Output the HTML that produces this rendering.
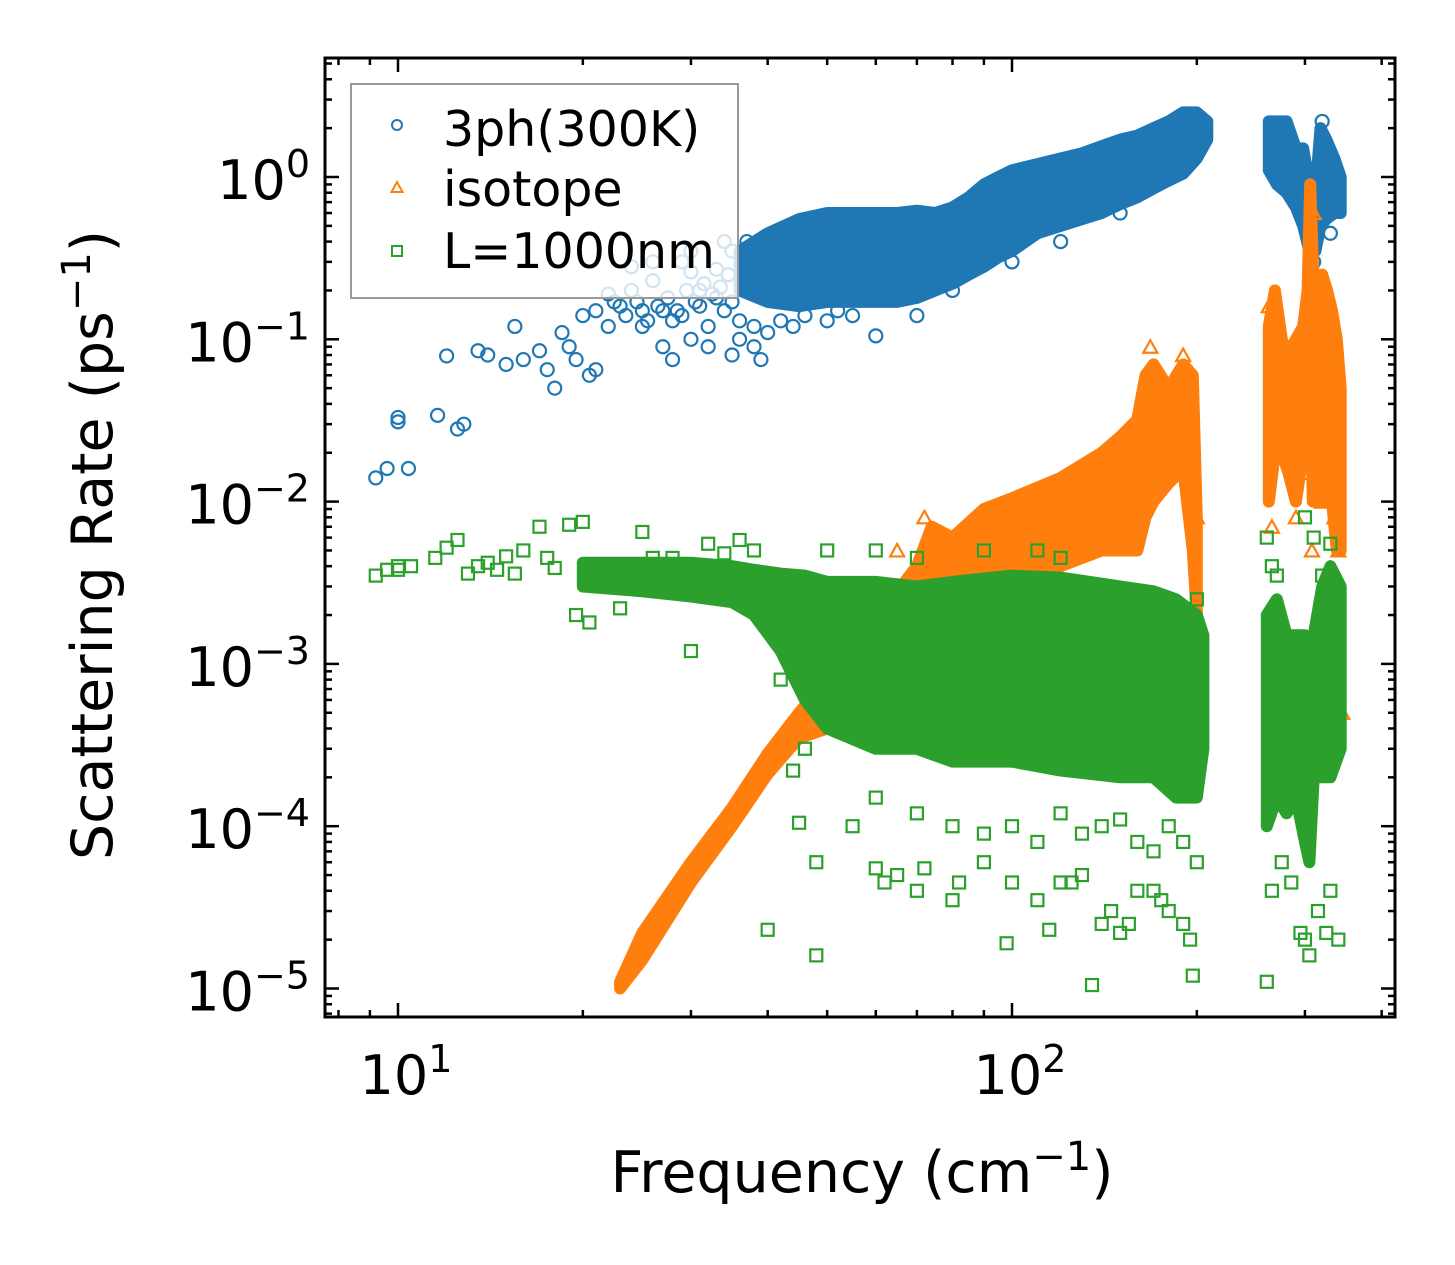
<!DOCTYPE html>
<html><head><meta charset="utf-8"><style>
body{margin:0;background:#fff}
svg{display:block;font-family:"DejaVu Sans","Liberation Sans",sans-serif}
</style></head><body>
<svg id="chart" width="1455" height="1265" viewBox="0 0 1455 1265" xmlns="http://www.w3.org/2000/svg">
<rect width="1455" height="1265" fill="#fff"/>
<defs><clipPath id="plotclip"><rect x="325" y="58" width="1070" height="959"/></clipPath></defs>
<g id="marks" clip-path="url(#plotclip)"></g>
<g id="axes"></g>
<g id="legend">
<rect x="351" y="84" width="387" height="214" fill="rgba(255,255,255,0.8)" stroke="#999" stroke-width="2"/>
<circle cx="397" cy="125" r="5" fill="none" stroke="#1f77b4" stroke-width="2"/>
<text x="443" y="146" font-size="49">3ph(300K)</text>
<polygon points="397,182 402.5,192 391.5,192" fill="none" stroke="#ff7f0e" stroke-width="2"/>
<text x="443" y="206" font-size="49">isotope</text>
<rect x="392" y="246" width="10" height="10" fill="none" stroke="#2ca02c" stroke-width="2"/>
<text x="443" y="268" font-size="49">L=1000nm</text>
</g>
<text x="862" y="1192" font-size="57" text-anchor="middle">Frequency (cm<tspan dy="-22" font-size="40">−1</tspan><tspan dy="22">)</tspan></text>
<text transform="translate(112,545) rotate(-90)" font-size="57" text-anchor="middle">Scattering Rate (ps<tspan dy="-22" font-size="40">−1</tspan><tspan dy="22">)</tspan></text>
</svg>
<script>
// ---- data ----
const blueEnvFreq1 = [36,40,45,50,55,60,65,70,75,80,85,90,95,100,110,120,130,140,150,160,170,180,190,200,208];
const blueEnvLo1 = [0.2,0.17,0.16,0.17,0.17,0.17,0.17,0.18,0.2,0.22,0.25,0.28,0.32,0.35,0.45,0.5,0.55,0.6,0.68,0.75,0.85,0.95,1.05,1.3,1.7];
const blueEnvHi1 = [0.35,0.45,0.55,0.6,0.6,0.6,0.6,0.62,0.6,0.65,0.75,0.9,1.0,1.1,1.2,1.3,1.4,1.55,1.7,1.8,2.0,2.2,2.5,2.5,2.2];
const blueEnvFreq2 = [262,270,280,290,298,305,312,318,325,335,343];
const blueEnvLo2 = [1.1,0.9,0.8,0.65,0.5,0.35,0.35,0.5,0.55,0.6,0.6];
const blueEnvHi2 = [2.2,2.2,2.2,1.5,1.5,0.9,0.8,2.0,1.7,1.3,1.0];
const blueFreq = [9.2,9.6,10,10,10.4,11.6,12,12.5,12.8,13.5,14,15,15.5,16,17,17.5,18,18.5,19,19.5,20,20.5,21,22,23,24,25,26,27,28,29,30,31,32,33,34,35,36,37,28,32,35,38,39,40,44,50,55,60,70,80,100,120,150,24,26,30,34,300,310,320,330,
 21,22.5,23.5,24.5,25.5,26.5,27.5,28.5,29.5,30.5,31.5,32.5,33.5,34.5,22,25,27,29,31,33,35,30,36,38,42,46,52];
const blueRate = [0.014,0.016,0.033,0.031,0.016,0.034,0.079,0.028,0.03,0.085,0.08,0.07,0.12,0.075,0.085,0.065,0.05,0.11,0.09,0.075,0.14,0.06,0.065,0.19,0.16,0.2,0.15,0.23,0.09,0.13,0.3,0.1,0.2,0.12,0.27,0.15,0.35,0.1,0.4,0.075,0.09,0.08,0.09,0.075,0.11,0.12,0.13,0.14,0.105,0.14,0.2,0.3,0.4,0.6,0.28,0.3,0.35,0.4,0.6,0.3,2.2,0.45,
 0.15,0.17,0.14,0.17,0.13,0.16,0.18,0.15,0.2,0.17,0.22,0.19,0.21,0.25,0.12,0.12,0.15,0.14,0.16,0.18,0.17,0.26,0.13,0.12,0.13,0.14,0.15];

const orangeEnvFreq1 = [23,25,30,35,40,45,50];
const orangeEnvLo1 = [1e-5,1.5e-5,4.5e-5,1e-4,2.1e-4,3.5e-4,4e-4];
const orangeEnvHi1 = [1.1e-5,2.2e-5,6e-5,1.3e-4,2.8e-4,5e-4,8e-4];
const orangeEnvFreq2 = [50,60,66,70,74,80,90,100,120,140,150,160,165,170,180,190,197,200];
const orangeEnvLo2 = [4e-4,1e-3,1.3e-3,1.5e-3,1.7e-3,2e-3,2.5e-3,3e-3,4e-3,5e-3,5e-3,5e-3,8e-3,1e-2,1.3e-2,1.6e-2,5e-3,2e-3];
const orangeEnvHi2 = [8e-4,2e-3,3e-3,4e-3,7e-3,6e-3,9e-3,1.05e-2,1.4e-2,2e-2,2.5e-2,3.2e-2,6e-2,7e-2,5e-2,7e-2,6e-2,8e-3];
const orangeEnvFreq3 = [262,268,275,282,290,298,303,306,309,314,320,326,332,338,343];
const orangeEnvLo3 = [1e-2,2e-2,2e-2,1.5e-2,1e-2,2e-2,4e-2,6e-2,1e-2,1e-2,1e-2,1e-2,1e-2,5e-3,5e-3];
const orangeEnvHi3 = [1.2e-1,2e-1,1e-1,8e-2,1e-1,1.2e-1,2e-1,9e-1,3e-1,1.5e-1,2.5e-1,2e-1,1.5e-1,1e-1,5e-2];
const orangeFreq = [265,270,275,290,300,308,320,335,340,345,200,195,72,65,168,190,310,262,330];
const orangeRate = [7e-3,2e-2,4e-2,8e-3,1.5e-2,5e-3,1e-2,8e-3,5e-3,5e-4,8e-3,1e-2,8e-3,5e-3,9e-2,8e-2,6e-1,1.6e-1,3e-2];

const greenEnvFreq1 = [20,25,30,35,38,42,46,50,60,70,80,100,120,150,170,185,200,205];
const greenEnvLo1 = [3e-3,2.8e-3,2.6e-3,2.4e-3,2e-3,1.2e-3,6e-4,4e-4,3e-4,3e-4,2.5e-4,2.5e-4,2.2e-4,2e-4,2e-4,1.5e-4,1.5e-4,3e-4];
const greenEnvHi1 = [4.2e-3,4.2e-3,4.2e-3,4e-3,3.8e-3,3.6e-3,3.5e-3,3.2e-3,3.2e-3,3e-3,3.2e-3,3.5e-3,3.4e-3,3e-3,2.8e-3,2.5e-3,2e-3,1.5e-3];
const greenEnvFreq2 = [260,270,280,290,300,305,310,320,330,343];
const greenEnvLo2 = [1e-4,1.5e-4,1.2e-4,1.5e-4,8e-5,6e-5,2e-4,2e-4,2e-4,3e-4];
const greenEnvHi2 = [2e-3,2.5e-3,1.5e-3,1.5e-3,1.5e-3,1e-3,1.5e-3,3e-3,4e-3,3e-3];
const greenFreq = [9.2,9.6,10,10,10.5,11.5,12,12.5,13,13.5,14,14.5,15,15.5,16,17,17.5,18,19,19.5,20,20.5,21,22,23,24,25,26,27,28,30,32,34,36,38,
 40,48,45,55,48,60,62,65,70,72,80,82,90,98,100,110,115,120,125,130,135,140,145,150,155,160,170,175,180,190,195,197,260,265,275,285,295,300,305,315,325,330,340,
 60,70,80,90,100,110,120,130,140,150,160,170,180,190,200,44,46,42,
 50,60,70,90,110,120,200,260,300,310,330,265,270,320];
const greenRate = [3.5e-3,3.8e-3,4e-3,3.8e-3,4e-3,4.5e-3,5.2e-3,5.8e-3,3.6e-3,4e-3,4.2e-3,3.8e-3,4.6e-3,3.6e-3,5e-3,7e-3,4.5e-3,3.9e-3,7.2e-3,2e-3,7.5e-3,1.8e-3,4e-3,3.5e-3,2.2e-3,4e-3,6.5e-3,4.5e-3,3e-3,4.5e-3,1.2e-3,5.5e-3,4.8e-3,5.8e-3,5e-3,
 2.3e-5,1.6e-5,1.05e-4,1e-4,6e-5,5.5e-5,4.5e-5,5e-5,4e-5,5.5e-5,3.5e-5,4.5e-5,6e-5,1.9e-5,4.5e-5,3.5e-5,2.3e-5,4.5e-5,4.5e-5,5e-5,1.05e-5,2.5e-5,3e-5,2.2e-5,2.5e-5,4e-5,4e-5,3.5e-5,3e-5,2.5e-5,2e-5,1.2e-5,1.1e-5,4e-5,6e-5,4.5e-5,2.2e-5,2e-5,1.6e-5,3e-5,2.2e-5,4e-5,2e-5,
 1.5e-4,1.2e-4,1e-4,9e-5,1e-4,8e-5,1.2e-4,9e-5,1e-4,1.1e-4,8e-5,7e-5,1e-4,8e-5,6e-5,2.2e-4,3e-4,8e-4,
 5e-3,5e-3,4.5e-3,5e-3,5e-3,4.5e-3,2.5e-3,6e-3,8e-3,6e-3,5.5e-3,4e-3,3.5e-3,3.5e-3];

// ---- axes ----
const X0=398, XD=614, Y0=177, YD=162.3;
const xS = f => X0 + XD*(Math.log10(f)-1);
const yS = r => Y0 - YD*Math.log10(r);
const NS='http://www.w3.org/2000/svg';
const marks=document.getElementById('marks');
const axes=document.getElementById('axes');
function mk(tag,attrs,parent){const e=document.createElementNS(NS,tag);for(const k in attrs)e.setAttribute(k,attrs[k]);parent.appendChild(e);return e;}

function envelope(fr,lo,hi,color,name){
  const pts=[];
  for(let i=0;i<fr.length;i++)pts.push(xS(fr[i]).toFixed(1)+','+yS(lo[i]).toFixed(1));
  for(let i=fr.length-1;i>=0;i--)pts.push(xS(fr[i]).toFixed(1)+','+yS(hi[i]).toFixed(1));
  const p=mk('polygon',{points:pts.join(' '),fill:color,stroke:color,'stroke-width':12,'stroke-linejoin':'round'},marks);
  
  
}
function scatter(fr,rt,color,shape,name){
  for(let i=0;i<fr.length;i++){
    const x=xS(fr[i]),y=yS(rt[i]);let e;
    if(shape==='circle')e=mk('circle',{cx:x,cy:y,r:6.5,fill:'none',stroke:color,'stroke-width':2.2},marks);
    else if(shape==='tri')e=mk('polygon',{points:`${x},${y-6.5} ${x+7},${y+6} ${x-7},${y+6}`,fill:'none',stroke:color,'stroke-width':2.2},marks);
    else e=mk('rect',{x:x-6,y:y-6,width:12,height:12,fill:'none',stroke:color,'stroke-width':2.2},marks);
    
    
  }
}
const B='#1f77b4',O='#ff7f0e',G='#2ca02c';
envelope(blueEnvFreq1,blueEnvLo1,blueEnvHi1,B,'3ph-dense-region');
envelope(blueEnvFreq2,blueEnvLo2,blueEnvHi2,B,'3ph-dense-region-high');
scatter(blueFreq,blueRate,B,'circle','3ph-point');
envelope(orangeEnvFreq1,orangeEnvLo1,orangeEnvHi1,O,'isotope-dense-low');
envelope(orangeEnvFreq2,orangeEnvLo2,orangeEnvHi2,O,'isotope-dense-mid');
envelope(orangeEnvFreq3,orangeEnvLo3,orangeEnvHi3,O,'isotope-dense-high');
scatter(orangeFreq,orangeRate,O,'tri','isotope-point');
envelope(greenEnvFreq1,greenEnvLo1,greenEnvHi1,G,'boundary-dense-region');
envelope(greenEnvFreq2,greenEnvLo2,greenEnvHi2,G,'boundary-dense-region-high');
scatter(greenFreq,greenRate,G,'square','boundary-point');

// frame
const fr=mk('rect',{x:325,y:58,width:1070,height:959,fill:'none',stroke:'#000','stroke-width':3},axes);


function line(x1,y1,x2,y2,name){const l=mk('line',{x1,y1,x2,y2,stroke:'#000','stroke-width':2.5},axes);}
// x ticks
const xMajors=[10,100];
const xMinors=[8,9,20,30,40,50,60,70,80,90,200,300,400];
xMajors.forEach(v=>{const x=xS(v);line(x,1017,x,1003,'x-major-tick');line(x,58,x,72,'x-major-tick-top');
  const t=mk('text',{x:x+8,y:1094,'font-size':54,'text-anchor':'middle'},axes);t.innerHTML='10<tspan dy="-22" font-size="38">'+Math.log10(v)+'</tspan>';
  
  });
xMinors.forEach(v=>{const x=xS(v);line(x,1017,x,1010,'x-minor-tick');line(x,58,x,65,'x-minor-tick-top');});
// y ticks
const yExps=[0,-1,-2,-3,-4,-5];
yExps.forEach(k=>{const y=yS(Math.pow(10,k));line(325,y,339,y,'y-major-tick');line(1395,y,1381,y,'y-major-tick-right');
  const t=mk('text',{x:310,y:y+22,'font-size':54,'text-anchor':'end'},axes);t.innerHTML='10<tspan dy="-22" font-size="38">'+(k===0?'0':'−'+(-k))+'</tspan>';
  
  });
for(let k=-6;k<=0;k++)for(let m=2;m<=9;m++){const y=yS(m*Math.pow(10,k));if(y<58||y>1017)continue;line(325,y,332,y,'y-minor-tick');line(1395,y,1388,y,'y-minor-tick-right');}
</script>
</body></html>
